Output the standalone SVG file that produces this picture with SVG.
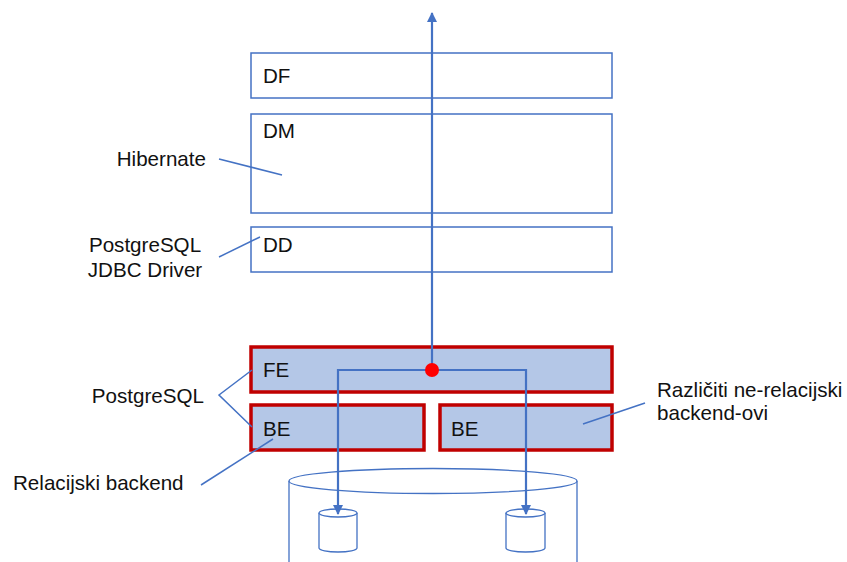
<svg xmlns="http://www.w3.org/2000/svg" width="847" height="562" viewBox="0 0 847 562">
<defs>
<style>
text{font-family:"Liberation Sans",Arial,sans-serif;font-size:20.6px;fill:#111}
.box{fill:#fff;stroke:#4472C4;stroke-width:1.5}
.pg{fill:#B4C7E7;stroke:#C00000;stroke-width:3.5}
.ln{fill:none;stroke:#4472C4;stroke-width:1.5}
.cl{fill:none;stroke:#4472C4;stroke-width:2.2}
.cyl{fill:#fff;stroke:#4472C4;stroke-width:1.3}
</style>
<marker id="ah" viewBox="0 0 10 10" refX="9" refY="5" markerWidth="10" markerHeight="10" markerUnits="userSpaceOnUse" orient="auto">
<path d="M0,0 L10,5 L0,10 z" fill="#4472C4"/>
</marker>
</defs>
<rect width="847" height="562" fill="#fff"/>
<g id="storage">
<path class="cyl" d="M289,481 L289,562 M577,481 L577,562"/>
<ellipse class="cyl" cx="433" cy="481" rx="144" ry="12.5"/>
</g>
<g id="db1">
<path class="cyl" d="M319,513 L319,548 A19,4 0 0 0 357,548 L357,513"/>
<ellipse class="cyl" cx="338" cy="513" rx="19" ry="4"/>
</g>
<g id="db2">
<path class="cyl" d="M506,513 L506,548 A19.5,4 0 0 0 545,548 L545,513"/>
<ellipse class="cyl" cx="525.5" cy="513" rx="19.5" ry="4"/>
</g>
<g id="df"><rect class="box" x="251" y="53" width="361" height="45"/><text x="263" y="83">DF</text></g>
<g id="dm"><rect class="box" x="251" y="114" width="361" height="99"/><text x="263" y="138">DM</text></g>
<g id="dd"><rect class="box" x="251" y="227" width="361" height="45"/><text x="263" y="252">DD</text></g>
<g id="fe"><rect class="pg" x="251" y="347" width="361" height="45"/><text x="263" y="377">FE</text></g>
<g id="be1"><rect class="pg" x="251" y="405" width="173" height="45"/><text x="263" y="436">BE</text></g>
<g id="be2"><rect class="pg" x="440" y="405" width="172" height="45"/><text x="451" y="436">BE</text></g>
<g id="labels">
<text x="206" y="166" text-anchor="end">Hibernate</text>
<text x="145" y="252" text-anchor="middle">PostgreSQL</text>
<text x="145" y="277" text-anchor="middle">JDBC Driver</text>
<text x="204" y="403" text-anchor="end">PostgreSQL</text>
<text x="13" y="490">Relacijski backend</text>
<text x="657" y="397">Različiti ne-relacijski</text>
<text x="657" y="420">backend-ovi</text>
</g>
<g id="connectors">
<line class="cl" x1="432" y1="370" x2="432" y2="13" marker-end="url(#ah)"/>
<path class="cl" d="M432,370 L338,370 L338,514" marker-end="url(#ah)"/>
<path class="cl" d="M432,370 L526,370 L526,514" marker-end="url(#ah)"/>
<line class="ln" x1="219" y1="159" x2="282" y2="175"/>
<line class="ln" x1="219" y1="257" x2="260" y2="237"/>
<path class="ln" d="M252,370 L219,395 L252,427"/>
<line class="ln" x1="201" y1="485" x2="273" y2="439"/>
<line class="ln" x1="645" y1="403" x2="583" y2="424"/>
</g>
<circle id="hub" cx="432" cy="370" r="7" fill="#FF0000"/>
</svg>
